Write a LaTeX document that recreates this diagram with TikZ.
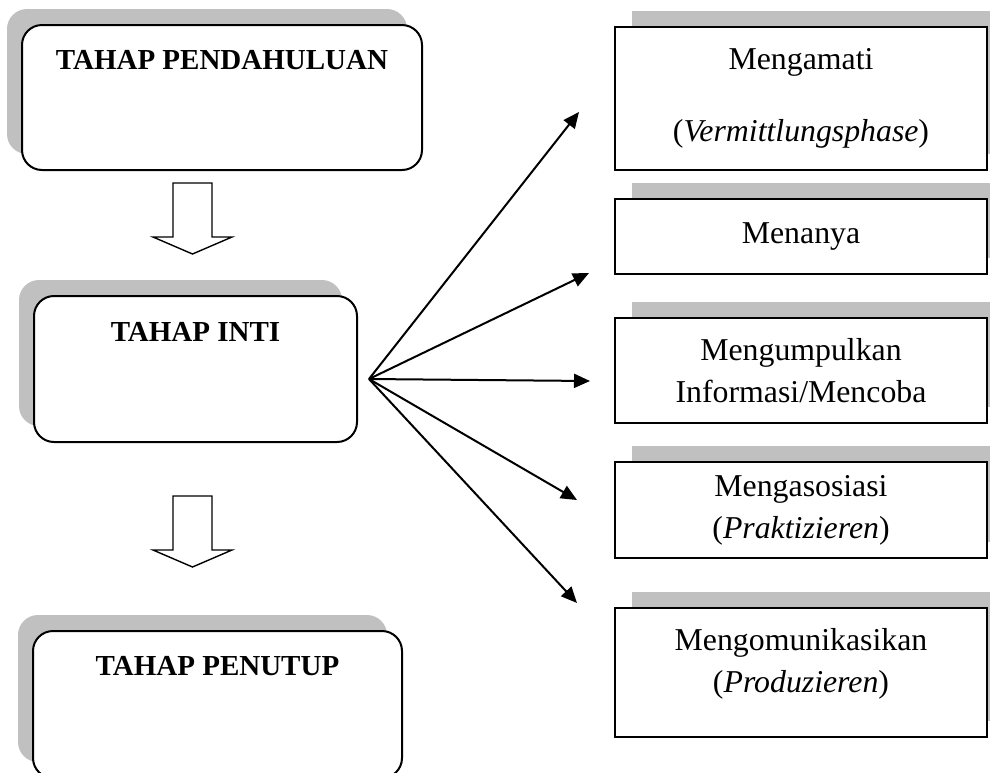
\documentclass[tikz,border=0pt]{standalone}
\usepackage{fontspec}
\setmainfont{Liberation Serif}
\usetikzlibrary{positioning,arrows.meta,shadows}

\definecolor{shadowgray}{RGB}{192,192,192}

% hollow block arrow pointing down, #1 = top left corner of the stem
\newcommand{\hollowdown}[1]{%
  \draw[hollow] #1 -- ++(0,54) -- ++(-20,0) -- ++(39.5,17) -- ++(39.5,-17)
    -- ++(-20,0) -- ++(0,-54) -- cycle;}

\begin{document}
\begin{tikzpicture}[
  x=0.5pt, y=-0.5pt,
  stage/.style={
    draw,
    line width=1pt,
    fill=white,
    rounded corners=10pt,
    inner sep=0pt,
    general shadow={fill=shadowgray, shadow xshift=-7.5pt, shadow yshift=8pt}
  },
  stagetitle/.style={font=\fontsize{14.5}{17}\selectfont\bfseries, inner sep=0pt},
  task/.style={
    draw,
    line width=1pt,
    fill=white,
    inner sep=0pt,
    minimum width=186pt,
    align=center,
    font=\fontsize{15.9}{21}\selectfont,
    general shadow={fill=shadowgray, shadow xshift=8.5pt, shadow yshift=8pt}
  },
  tasktext/.style={align=center, inner sep=0pt, font=\fontsize{15.9}{21}\selectfont},
  hollow/.style={draw, line width=0.7pt, fill=white},
  fan/.style={-{Triangle[length=8pt,width=7pt]}, line width=1pt}
]
\useasboundingbox (0,0) rectangle (990,772);

% stages
\node[stage, minimum width=200pt, minimum height=72.5pt] (pend) at (222,97.5) {};
\node[stagetitle] (pendt) at ([yshift=-18pt]pend.north) {TAHAP PENDAHULUAN};
\node[stage, minimum width=161.5pt, minimum height=73pt] (inti) at (195.5,369) {};
\node[stagetitle] (intit) at ([yshift=-18.5pt]inti.north) {TAHAP INTI};
\node[stage, minimum width=184.5pt, minimum height=73.5pt] (tutup) at (217.5,704.5) {};
\node[stagetitle] (tutupt) at ([yshift=-18pt]tutup.north) {TAHAP PENUTUP};

\hollowdown{(173,183)}
\hollowdown{(173,496)}

% steps of the core stage
\node[task, minimum height=71.5pt] (amati) at (801,98.5) {Mengamati\\[15pt](\textit{Vermittlungsphase})};
\node[task, minimum height=37.5pt] (tanya) at (801,236.5) {Menanya};
\node[task, minimum height=52.5pt] (kumpul) at (801,370.5) {Mengumpulkan\\Informasi/Mencoba};
\node[task, minimum height=48pt] (asosiasi) at (801,510) {Mengasosiasi\\(\textit{Praktizieren})};
\node[task, minimum height=64.5pt] (komunikasi) at (801,672.5) {};
\node[tasktext] (komunikasit) at ([yshift=4.5pt]komunikasi.center) {Mengomunikasikan\\(\textit{Produzieren})};

\coordinate (hub) at ([shift={(11,10)}]inti.east);
\draw[fan] (hub) -- ([shift={(-35,13.5)}]amati.west);
\draw[fan] (hub) -- ([shift={(-25,36.5)}]tanya.west);
\draw[fan] (hub) -- ([shift={(-24,10.5)}]kumpul.west);
\draw[fan] (hub) -- ([shift={(-37,-10)}]asosiasi.west);
\draw[fan] (hub) -- ([shift={(-37,-69.5)}]komunikasi.west);
\end{tikzpicture}
\end{document}
